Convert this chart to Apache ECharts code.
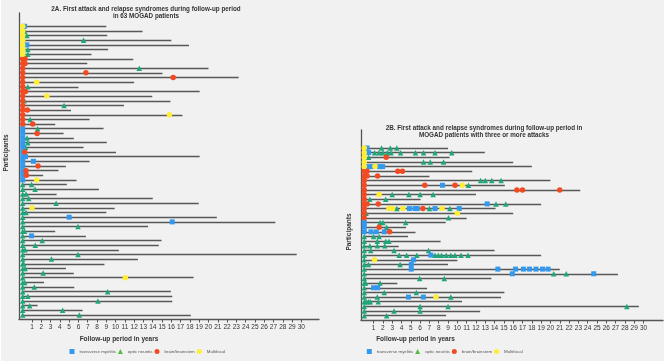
<!DOCTYPE html>
<html>
<head>
<meta charset="utf-8">
<script src="https://cdn.jsdelivr.net/npm/echarts@6/dist/echarts.min.js"></script>
<style>
  html, body { margin: 0; padding: 0; background: #fff; }
  #chart { width: 666px; height: 364px; }
</style>
</head>
<body>
<div id="chart"></div>
<script>
// attack types: T = transverse myelitis, O = optic neuritis, B = brain/brainstem, M = multifocal
const attackTypes = ["transverse myelitis", "optic neuritis", "brain/brainstem", "Multifocal"];
const typeCodes = ["T", "O", "B", "M"];
const xTickValues = [1, 2, 3, 4, 5, 6, 7, 8, 9, 10, 11, 12, 13, 14, 15, 16, 17, 18, 19, 20,
  21, 22, 23, 24, 25, 26, 27, 28, 29, 30];

// 2A: follow-up (years) per patient, top to bottom
const followA = [9.0, 12.9, 9.1, 16.0, 17.9, 9.2, 7.4, 11.9, 6.95, 20.0, 15.05, 23.25, 12.0, 6.0,
  19.05, 13.95, 15.9, 10.9, 5.2, 17.2, 7.2, 3.5, 8.7, 4.4, 5.5, 9.05, 6.55, 10.05, 19.05, 7.2,
  4.65, 3.85, 2.2, 5.8, 4.75, 8.2, 3.65, 14.0, 18.95, 9.9, 9.0, 20.9, 27.2, 13.5, 3.5, 6.8,
  14.95, 14.65, 10.35, 29.5, 12.4, 8.8, 4.65, 5.5, 18.4, 2.3, 5.55, 15.95, 16.1, 16.1, 1.6,
  6.45, 18.1];

// 2A: attacks per patient [type, year]
const eventsA = [
  [["M", 0], ["T", 0.2]], [["M", 0], ["O", 0.2]], [["M", 0], ["O", 0.45]], [["M", 0], ["O", 6.55]],
  [["M", 0], ["T", 0.45]], [["M", 0], ["O", 0.55]], [["M", 0], ["O", 0.55]],
  [["B", 0], ["B", 0.25]], [["B", 0], ["B", 0.25]], [["B", 0], ["O", 12.55]], [["B", 0], ["B", 6.8]],
  [["B", 0], ["B", 16.2]], [["B", 0], ["M", 1.5]], [["B", 0], ["O", 0.55]], [["B", 0], ["B", 0.3]],
  [["B", 0], ["M", 2.6]], [["B", 0], ["O", 0.15]], [["B", 0], ["O", 4.45]], [["B", 0], ["B", 0.5]],
  [["B", 0], ["M", 15.8]], [["B", 0], ["O", 0.8]], [["B", 0], ["B", 1.08]],
  [["T", 0], ["O", 1.6]], [["T", 0], ["B", 1.55]], [["T", 0], ["O", 0.47]], [["T", 0], ["O", 0.55]],
  [["T", 0], ["O", 0.3]], [["T", 0], ["B", 0.22]], [["T", 0], ["T", 0.3]], [["T", 0], ["T", 1.15]],
  [["T", 0], ["B", 1.65]], [["T", 0], ["B", 0.36]], [["T", 0], ["B", 0.4]], [["T", 0], ["M", 1.5]],
  [["O", 0], ["O", 0.95]], [["O", 0], ["O", 1.33]], [["O", 0], ["O", 0.36]], [["O", 0], ["O", 0.65]],
  [["O", 0], ["O", 3.6]], [["O", 0], ["M", 1.0]], [["O", 0], ["O", 0.36]], [["O", 0], ["T", 5.0]],
  [["O", 0], ["T", 16.1]], [["O", 0], ["O", 5.95]], [["O", 0], ["O", 0.2]], [["O", 0], ["T", 0.95]],
  [["O", 0], ["O", 2.1]], [["O", 0], ["O", 1.35]], [["O", 0], ["O", 0.25]], [["O", 0], ["O", 5.95]],
  [["O", 0], ["O", 3.1]], [["O", 0], ["O", 0.1]], [["O", 0], ["O", 0.25]], [["O", 0], ["O", 2.2]],
  [["O", 0], ["M", 11.05]], [["O", 0], ["O", 0.22]], [["O", 0], ["O", 1.25]], [["O", 0], ["O", 9.15]],
  [["O", 0], ["O", 0.55]], [["O", 0], ["O", 8.1]], [["O", 0], ["O", 0.75]], [["O", 0], ["O", 4.3]],
  [["O", 0], ["O", 6.1]]
];

// 2B: follow-up (years) per patient with >= 3 attacks
const followB = [9.0, 12.95, 9.16, 16.0, 18.0, 11.6, 7.0, 20.0, 15.1, 23.2, 12.0, 6.05, 19.0, 14.1,
  16.0, 11.0, 8.75, 4.5, 5.5, 4.7, 8.2, 3.7, 14.0, 19.0, 10.0, 9.0, 21.0, 27.25, 13.65, 3.55,
  6.75, 15.05, 14.7, 10.5, 29.5, 12.45, 8.8];

const eventsB = [
  [["M", 0], ["T", 0.3], ["O", 1.86], ["O", 2.8], ["O", 3.5]],
  [["M", 0], ["T", 0.47], ["O", 1.11], ["O", 1.58], ["O", 2.0], ["O", 2.47], ["O", 2.87], ["O", 3.9],
    ["O", 5.5], ["O", 6.37], ["O", 7.6], ["O", 9.4]],
  [["M", 0], ["O", 0.47], ["B", 2.36]],
  [["M", 0], ["O", 6.37], ["O", 7.09], ["O", 8.52]],
  [["M", 0], ["T", 0.45], ["T", 0.8], ["M", 1.15], ["T", 1.65], ["T", 1.97]],
  [["B", 0], ["B", 0.3], ["B", 3.6], ["B", 4.1]],
  [["B", 0], ["B", 0.3], ["B", 1.43]],
  [["B", 0], ["O", 12.5], ["O", 13.0], ["O", 13.7], ["O", 14.7]],
  [["B", 0], ["B", 6.5], ["T", 8.4], ["B", 9.75], ["M", 10.55], ["O", 11.2]],
  [["B", 0], ["B", 16.4], ["B", 17.0], ["B", 21.0]],
  [["B", 0], ["M", 1.6], ["O", 3.0], ["O", 4.8], ["O", 6.0], ["O", 7.4]],
  [["B", 0], ["O", 0.6], ["O", 2.3]],
  [["B", 0], ["B", 0.3], ["B", 1.5], ["T", 13.2], ["O", 14.15], ["O", 15.2]],
  [["B", 0], ["M", 2.65], ["M", 3.05], ["O", 3.5], ["M", 4.15], ["T", 4.85], ["T", 5.45], ["T", 5.7],
    ["B", 6.3], ["O", 7.0], ["T", 7.6], ["M", 8.35], ["O", 9.2], ["T", 10.2]],
  [["B", 0], ["O", 0.2], ["M", 10.0]],
  [["B", 0], ["O", 9.05]],
  [["T", 0], ["O", 1.7], ["O", 2.0], ["O", 4.45]],
  [["T", 0], ["B", 1.6], ["O", 2.4]],
  [["T", 0], ["T", 0.72], ["T", 1.29], ["T", 2.15], ["B", 2.72]],
  [["O", 0], ["O", 1.0], ["O", 1.6]],
  [["O", 0], ["O", 1.4], ["O", 2.3], ["O", 2.65]],
  [["O", 0], ["O", 0.6], ["O", 1.4], ["O", 2.2]],
  [["O", 0], ["O", 0.7], ["O", 3.2], ["O", 6.9]],
  [["O", 0], ["O", 3.75], ["O", 4.55], ["O", 5.65], ["T", 7.15], ["O", 7.6], ["O", 7.95], ["O", 8.3],
    ["O", 8.8], ["O", 9.3], ["O", 9.75], ["O", 10.4], ["O", 11.15]],
  [["O", 0], ["M", 1.1], ["T", 5.3]],
  [["O", 0], ["O", 0.45], ["O", 3.85], ["T", 5.05]],
  [["O", 0], ["T", 5.05], ["T", 14.35], ["T", 16.25], ["T", 17.1], ["T", 17.75], ["T", 18.45],
    ["T", 19.15], ["T", 19.75]],
  [["O", 0], ["T", 15.9], ["O", 20.35], ["O", 21.7], ["T", 24.65]],
  [["O", 0], ["O", 5.95], ["O", 8.6]],
  [["O", 0], ["O", 0.15], ["O", 1.7]],
  [["O", 0], ["T", 1.0], ["T", 1.45]],
  [["O", 0], ["O", 2.15], ["O", 5.6]],
  [["O", 0], ["O", 1.4], ["T", 4.75], ["T", 6.35], ["M", 7.7], ["O", 9.3]],
  [["O", 0], ["O", 0.2], ["O", 0.45], ["O", 0.65], ["O", 1.5]],
  [["O", 0], ["O", 6.0], ["O", 9.0], ["O", 28.2]],
  [["O", 0], ["O", 3.2], ["O", 6.0]],
  [["O", 0], ["O", 2.4]]
];

const markerStyle = {
  T: { symbol: "rect", size: 5, color: "#3399ee" },
  O: { symbol: "triangle", size: 5.5, color: "#1fa67a" },
  B: { symbol: "circle", size: 5.5, color: "#f24a22" },
  M: { symbol: "circle", size: 5.5, color: "#ffee33" }
};
const drawOrder = ["O", "T", "B", "M"];

function panelSeries(follow, events, idx) {
  const series = [{
    type: "lines",
    coordinateSystem: "cartesian2d",
    xAxisIndex: idx,
    yAxisIndex: idx,
    silent: true,
    lineStyle: { color: "#585858", width: 1.4, opacity: 1 },
    data: follow.map((end, i) => ({ coords: [[0, i + 1], [end, i + 1]] }))
  }];
  drawOrder.forEach(code => {
    const pts = [];
    events.forEach((row, i) => row.forEach(([c, yr]) => { if (c === code) pts.push([yr, i + 1]); }));
    const st = markerStyle[code];
    series.push({
      name: attackTypes[typeCodes.indexOf(code)],
      type: "scatter",
      xAxisIndex: idx,
      yAxisIndex: idx,
      symbol: st.symbol,
      symbolSize: st.size,
      itemStyle: { color: st.color, opacity: 1 },
      data: pts,
      z: 3
    });
  });
  return series;
}

function xAxisFor(idx, min, max) {
  return {
    type: "value", gridIndex: idx, min: min, max: max,
    splitLine: { show: false },
    axisLine: { onZero: false, lineStyle: { color: "#555", width: 1.3 } },
    axisTick: { customValues: xTickValues, length: 3.5, lineStyle: { color: "#555", width: 1 } },
    axisLabel: { customValues: xTickValues, fontSize: 6.5, color: "#333", margin: 5,
      fontFamily: "Liberation Sans" }
  };
}
function yAxisFor(idx, min, max) {
  return {
    type: "value", gridIndex: idx, inverse: true, min: min, max: max,
    splitLine: { show: false }, axisTick: { show: false }, axisLabel: { show: false },
    axisLine: { show: true, onZero: false, lineStyle: { color: "#555", width: 1.3 } }
  };
}

const legendData = [
  { name: "transverse myelitis", icon: "rect" },
  { name: "optic neuritis", icon: "triangle", itemStyle: { color: "#55bb44" } },
  { name: "brain/brainstem", icon: "circle", itemStyle: { color: "#f24a22" } },
  { name: "Multifocal", icon: "circle" }
];
function legendAt(left) {
  return {
    left: left, top: 344, itemWidth: 5, itemHeight: 5, itemGap: 2, selectedMode: false,
    textStyle: { fontSize: 4.4, color: "#555", fontFamily: "Liberation Sans" },
    data: legendData
  };
}

function label(text, x, y, size, rot) {
  return {
    type: "text", x: x, y: y, rotation: rot || 0, silent: true,
    style: {
      text: text, font: "bold " + size + "px 'Liberation Sans'", fill: "#333",
      textAlign: "center", textVerticalAlign: "middle", align: "center", verticalAlign: "middle",
      lineHeight: 7
    }
  };
}

const chart = echarts.init(document.getElementById("chart"));
chart.setOption({
  backgroundColor: "#fff",
  animation: false,
  grid: [
    { left: 19, top: 13, width: 300, height: 306 },
    { left: 361, top: 130, width: 302, height: 190 }
  ],
  xAxis: [xAxisFor(0, -0.4, 31.9), xAxisFor(1, -0.35, 32.09)],
  yAxis: [yAxisFor(0, -1.85, 63.86), yAxisFor(1, -2.86, 37.92)],
  legend: [legendAt(64.5), legendAt(361.8)],
  graphic: [
    { type: "rect", z: -10, silent: true, shape: { x: 1, y: 0, width: 663, height: 361 },
      style: { fill: "#f1f1f1" } },
    label("2A. First attack and relapse syndromes during follow-up period\nin 63 MOGAD patients", 146, 12.3, 6.3),
    label("2B. First attack and relapse syndromes during follow-up period in\nMOGAD patients with three or more attacks", 484, 132.2, 6.3),
    label("Follow-up period in years", 119, 339.5, 6.5),
    label("Follow-up period in years", 415.5, 339.5, 6.5),
    label("Participants", 6, 153, 6.5, Math.PI / 2),
    label("Participants", 349, 232, 6.5, Math.PI / 2)
  ],
  series: panelSeries(followA, eventsA, 0).concat(panelSeries(followB, eventsB, 1))
});
</script>
</body>
</html>
